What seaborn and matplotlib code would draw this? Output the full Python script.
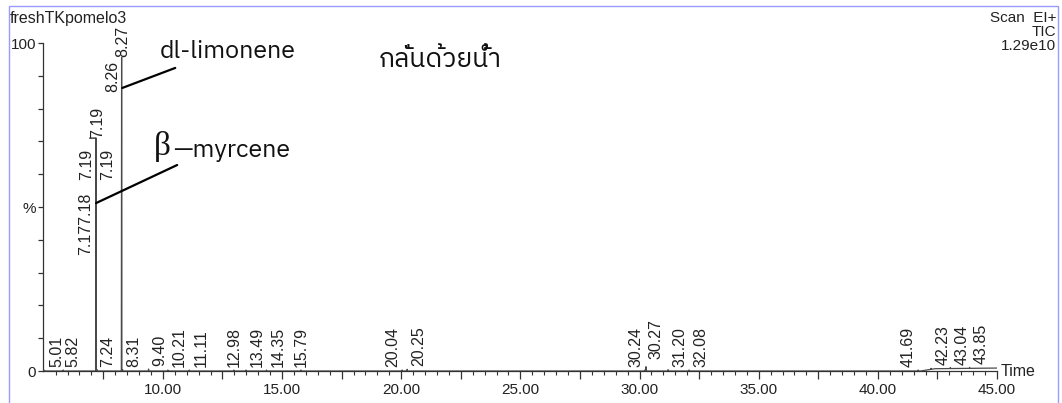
import numpy as np
import pandas as pd
import matplotlib
matplotlib.use("Agg")
import matplotlib.pyplot as plt
from matplotlib import font_manager
from matplotlib.ft2font import FT2Font
from matplotlib.patches import Rectangle
from matplotlib.ticker import FixedLocator, FuncFormatter
import seaborn as sns

# ---- data -----------------------------------------------------------------
# Labelled peaks of the total ion chromatogram: retention time (min), relative intensity (%)
peak_rt = [5.01, 5.82, 7.19, 7.24, 8.27, 8.31, 9.40, 10.21, 11.11, 12.98, 13.49,
           14.35, 15.79, 20.04, 20.25, 30.24, 30.27, 31.20, 32.08, 41.69, 42.23,
           43.04, 43.85]
peak_height = [0.3, 0.3, 71.0, 0.4, 100.0, 0.4, 0.6, 0.3, 0.3, 0.3, 0.3,
               0.3, 0.3, 0.3, 0.5, 0.4, 1.3, 0.4, 0.3, 0.3, 0.3,
               0.3, 0.3]

# Additional retention-time labels placed along the two big peaks
side_text = ["8.26", "7.19", "7.19", "7.177.18"]
side_rt = [8.26, 7.19, 7.19, 7.18]
side_level = [85.0, 58.2, 58.2, 35.4]

# Slow baseline rise near the end of the run
drift_rt = [4.985, 41.8, 42.4, 45.0]
drift_level = [0.0, 0.0, 0.7, 0.9]

x_ticks_major = [7.5, 10, 12.5, 15, 17.5, 20, 22.5, 25, 27.5, 30, 32.5, 35, 37.5, 40, 42.5, 45]
x_tick_labels = [10, 15, 20, 25, 30, 35, 40, 45]
y_ticks = [0, 10, 20, 30, 40, 50, 60, 70, 80, 90, 100]
y_tick_text = {0: "0", 50: "%", 100: "100"}

sample_name = "freshTKpomelo3"
header_lines = ["Scan  EI+", "TIC", "1.29e10"]
method_title = "กลั่นด้วยน้ำ"
compounds = ["dl-limonene", "myrcene"]


# ---- fonts ------------------------------------------------------------------
def font_with(ch):
    entries = sorted(font_manager.fontManager.ttflist,
                     key=lambda f: (0 if "thai" in f.name.lower() else 1, f.name))
    for f in entries:
        try:
            if ord(ch) in FT2Font(f.fname).get_charmap():
                return f.name
        except Exception:
            continue
    return None


thai_family = font_with("ก")
label_family = [thai_family, "DejaVu Sans"] if thai_family else ["Lato", "DejaVu Sans"]

sns.set_style("ticks")
plt.rcParams["font.family"] = ["Liberation Sans", "DejaVu Sans"]

# ---- chromatogram trace ------------------------------------------------------
half_w = 0.012
pts = [(t, l) for t, l in zip(drift_rt, drift_level)]
for rt, h in zip(peak_rt, peak_height):
    b = float(np.interp(rt, drift_rt, drift_level))
    pts += [(rt - half_w, b), (rt, b + h), (rt + half_w, b)]
pts.sort(key=lambda p: p[0])
trace = pd.DataFrame(pts, columns=["time", "intensity"])

fig = plt.figure(figsize=(10.62, 4.03), dpi=100)
ax = fig.add_axes([0.0408, 0.0794, 0.8980, 0.8139])

sns.lineplot(data=trace, x="time", y="intensity", estimator=None, sort=False,
             color="#4a4a4a", lw=0.9, ax=ax, zorder=3)

ax.set_xlim(4.985, 45.0)
ax.set_ylim(0, 100)
ax.set_xlabel("")
ax.set_ylabel("")
sns.despine(ax=ax)
for s in ("left", "bottom"):
    ax.spines[s].set_color("#333333")
    ax.spines[s].set_linewidth(0.9)

ax.xaxis.set_major_locator(FixedLocator(x_ticks_major))
ax.xaxis.set_minor_locator(FixedLocator(np.arange(5.5, 45.0, 0.5)))
ax.xaxis.set_major_formatter(FuncFormatter(
    lambda v, p: f"{v:.2f}" if any(abs(v - t) < 1e-6 for t in x_tick_labels) else ""))
ax.yaxis.set_major_locator(FixedLocator(y_ticks))
ax.yaxis.set_major_formatter(FuncFormatter(lambda v, p: y_tick_text.get(int(round(v)), "")))
ax.tick_params(axis="x", which="major", length=5.8, width=0.9, color="#333333",
               labelsize=11, labelcolor="#222222", pad=2.5)
ax.tick_params(axis="x", which="minor", length=2.9, width=0.8, color="#333333")
ax.tick_params(axis="y", which="major", length=3.6, width=0.9, color="#333333",
               labelsize=11, labelcolor="#222222", pad=1.5)

# ---- retention-time labels ---------------------------------------------------
layout = {
    5.01: ("left", 4.0, 2.2), 5.82: ("left", 1.5, 2.2), 7.24: ("left", 2.5, 2.2),
    7.19: ("center", 1.0, 0.0), 8.27: ("center", 1.0, -10.0),
    12.98: ("center", 0.5, 2.2), 15.79: ("center", 0.0, 2.2),
    20.04: ("right", -1.5, 2.2), 30.24: ("right", -1.0, 2.2),
    30.27: ("left", 2.0, 5.5), 41.69: ("right", -1.5, 2.2),
}
for rt, h in zip(peak_rt, peak_height):
    b = float(np.interp(rt, drift_rt, drift_level))
    ha, dx, dy = layout.get(rt, ("left", 3.0, 2.2))
    kw = {}
    if rt == 8.27:
        kw["bbox"] = dict(facecolor="white", edgecolor="none", pad=0.3)
    ax.annotate(f"{rt:.2f}", xy=(rt, b + h), xytext=(dx, dy), textcoords="offset points",
                rotation=90, ha=ha, va="bottom", fontsize=11.5, color="#222222",
                annotation_clip=False, zorder=5, **kw)

side_layout = [("right", -1.0), ("left", 3.0), ("right", -1.5), ("right", -1.5)]
for txt, rt, lv, (ha, dx) in zip(side_text, side_rt, side_level, side_layout):
    ax.annotate(txt, xy=(rt, lv), xytext=(dx, 0), textcoords="offset points",
                rotation=90, ha=ha, va="bottom", fontsize=11.5, color="#222222",
                annotation_clip=False, zorder=5)

# short apex tick beside the myrcene top label
ax.annotate("", xy=(7.19, 71.0), xytext=(-4.5, 0), textcoords="offset points",
            arrowprops=dict(arrowstyle="-", lw=1.0, color="#333333", shrinkA=0, shrinkB=0))

# ---- compound call-outs ------------------------------------------------------
ax.annotate("", xy=(8.30, 86.3), xytext=(10.52, 92.4),
            arrowprops=dict(arrowstyle="-", lw=1.6, color="black", shrinkA=0, shrinkB=0))
ax.text(9.85, 95.4, compounds[0], family=label_family, fontsize=18,
        ha="left", va="baseline", color="#111111", clip_on=False)

ax.annotate("", xy=(7.20, 51.2), xytext=(10.60, 62.8),
            arrowprops=dict(arrowstyle="-", lw=1.6, color="black", shrinkA=0, shrinkB=0))
ax.text(9.63, 65.9, "β", family=["Liberation Serif", "DejaVu Serif"], fontsize=24,
        ha="left", va="baseline", color="#111111", clip_on=False)
ax.text(10.43, 65.2, "—" + compounds[1], family=label_family, fontsize=18,
        ha="left", va="baseline", color="#111111", clip_on=False)

ax.text(19.04, 92.7, method_title, family=label_family, fontsize=19,
        ha="left", va="baseline", color="#111111", clip_on=False)

# ---- header texts and frame ----------------------------------------------------
ax.annotate("Time", xy=(1, 0), xycoords="axes fraction", xytext=(2.5, 0),
            textcoords="offset points", ha="left", va="center", fontsize=11.5,
            color="#222222", annotation_clip=False)
fig.text(0.0094, 0.9727, sample_name, ha="left", va="top", fontsize=11.5, color="#222222")
for i, line in enumerate(header_lines):
    fig.text(0.9944, 0.9727 - i * 0.0347, line, ha="right", va="top",
             fontsize=11, color="#222222")

fig.patches.append(Rectangle((0.0085, -0.02), 0.9877, 1.0051, transform=fig.transFigure,
                             fill=False, edgecolor="#9a9aff", lw=1.0, zorder=0))

fig.savefig("out.png", dpi=100)
